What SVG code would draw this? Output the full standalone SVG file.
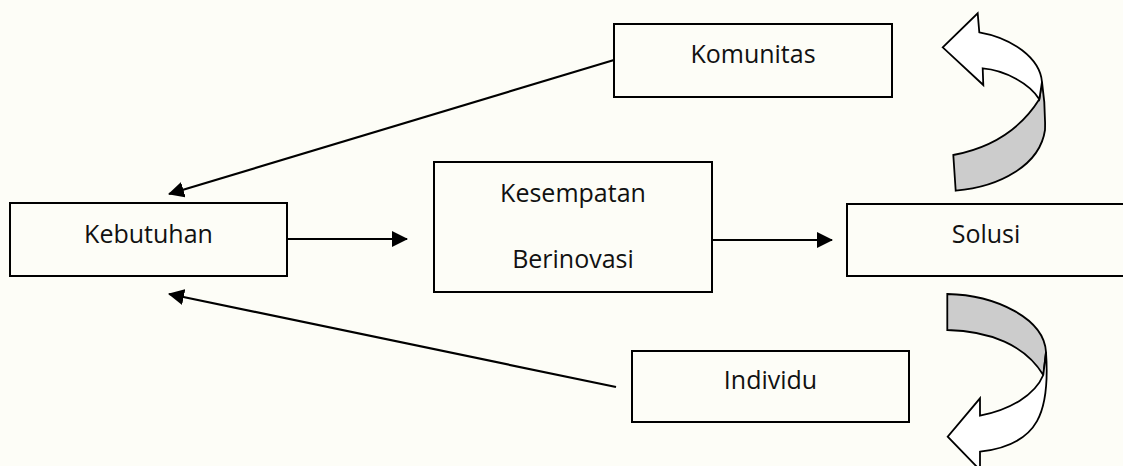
<svg xmlns="http://www.w3.org/2000/svg" width="1123" height="466" viewBox="0 0 1123 466">
<style>
.box{fill:none;stroke:#000;stroke-width:2}
.lbl{font-family:"Open Sans","Noto Sans","Liberation Sans",sans-serif;font-size:25px;fill:#111;text-anchor:middle}
.con{stroke:#000;stroke-width:2.2;fill:none}
.face{fill:#fff;stroke:#000;stroke-width:1.8;stroke-linejoin:miter}
.back{fill:#cccccc;stroke:#000;stroke-width:1.8}
</style>
<defs>
<marker id="ah" viewBox="0 0 16 16" markerWidth="16" markerHeight="16" refX="15" refY="8" orient="auto" markerUnits="userSpaceOnUse">
<path d="M0,0 L16,8 L0,16 Z" fill="#000"/>
</marker>
</defs>
<rect x="0" y="0" width="1123" height="466" fill="#fdfdf7"/>
<g id="connectors">
<line class="con" x1="287" y1="239" x2="407" y2="239" marker-end="url(#ah)"/>
<line class="con" x1="712" y1="240" x2="832" y2="240" marker-end="url(#ah)"/>
<line class="con" x1="614" y1="60" x2="169" y2="194" marker-end="url(#ah)"/>
<line class="con" x1="616" y1="387" x2="169" y2="294" marker-end="url(#ah)"/>
</g>
<g id="kebutuhan">
<rect class="box" x="10" y="203" width="277" height="73"/>
<text class="lbl" x="148.5" y="243">Kebutuhan</text>
</g>
<g id="kesempatan">
<rect class="box" x="434" y="162" width="278" height="130"/>
<text class="lbl" x="573" y="202">Kesempatan</text>
<text class="lbl" x="573" y="268">Berinovasi</text>
</g>
<g id="solusi">
<rect class="box" x="847" y="204" width="278" height="72"/>
<text class="lbl" x="986" y="243">Solusi</text>
</g>
<g id="komunitas">
<rect class="box" x="614" y="24" width="278" height="73"/>
<text class="lbl" x="753" y="63">Komunitas</text>
</g>
<g id="individu">
<rect class="box" x="632" y="351" width="277" height="71"/>
<text class="lbl" x="770.5" y="389">Individu</text>
</g>
<g id="curved-arrow-up">
<path class="back" d="M1039.3,99.3 C1020,130 990,148 953.3,155 L955.7,190.7 C1000,187 1040,165 1045,130 C1045.5,110 1044,95 1042,82 Z"/>
<path class="face" d="M942.7,47.3 L977.7,13.3 L979.3,32.3 C1012,38 1040,58 1042,82 L1039.3,99.3 C1030,84 1005,70 982.7,68.3 L983.3,85 Z"/>
</g>
<g id="curved-arrow-down">
<path class="back" d="M947.3,294 C995,295 1044,318 1046,352 L1043.3,375 C1025,345 990,331 947.3,330 Z"/>
<path class="face" d="M1046,352 C1050,410 1040,445 980,451.7 L980,470 L947.7,436.7 L980,398.3 L980,415.7 C1010,410 1035,395 1043.3,375 Z"/>
</g>
</svg>
